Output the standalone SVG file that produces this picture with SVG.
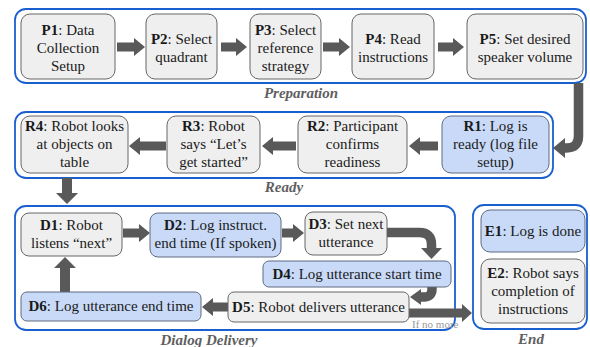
<svg xmlns="http://www.w3.org/2000/svg" width="590" height="347" viewBox="0 0 590 347">
<style>
.cont{fill:#fff;stroke:#1a5fd0;stroke-width:1.8}
.g{fill:#efefef;stroke:#666;stroke-width:1}
.bl{fill:#c9daf8;stroke:#5f6b80;stroke-width:1}
.ar{fill:#595959}
.sh{fill:none;stroke:#595959;stroke-width:9.5}
</style>
<g id="containers">
<rect class="cont" x="15" y="9" width="571" height="74" rx="11"/>
<rect class="cont" x="15" y="112" width="538" height="66" rx="11"/>
<rect class="cont" x="15" y="206" width="440" height="124" rx="11"/>
<rect class="cont" x="473" y="205" width="114" height="124" rx="11"/>
<text font-family="Liberation Serif" font-size="15" font-weight="bold" font-style="italic" fill="#5f5f5f" text-anchor="middle" x="301" y="98">Preparation</text>
<text font-family="Liberation Serif" font-size="15" font-weight="bold" font-style="italic" fill="#5f5f5f" text-anchor="middle" x="284" y="192">Ready</text>
<text font-family="Liberation Serif" font-size="15" font-weight="bold" font-style="italic" fill="#5f5f5f" text-anchor="middle" x="209" y="345">Dialog Delivery</text>
<text font-family="Liberation Serif" font-size="15" font-weight="bold" font-style="italic" fill="#5f5f5f" text-anchor="middle" x="531" y="344">End</text>
</g>
<g id="connectors">
<polygon class="ar" points="117,42.5 134,42.5 134,38 145,47 134,56 134,51.5 117,51.5"/>
<polygon class="ar" points="221,42.5 236,42.5 236,38 247,47 236,56 236,51.5 221,51.5"/>
<polygon class="ar" points="323,42.5 339,42.5 339,38 350,47 339,56 339,51.5 323,51.5"/>
<polygon class="ar" points="438,42.5 453,42.5 453,38 464,47 453,56 453,51.5 438,51.5"/>
<path class="sh" d="M578.5,83 V136 Q578.5,148 566.5,148 H562"/>
<polygon class="ar" points="565,138 553,148 565,158"/>
<polygon class="ar" points="438,141.5 420,141.5 420,137 409,146 420,155 420,150.5 438,150.5"/>
<polygon class="ar" points="296,141.5 273,141.5 273,137 262,146 273,155 273,150.5 296,150.5"/>
<polygon class="ar" points="166,141.5 140,141.5 140,137 129,146 140,155 140,150.5 166,150.5"/>
<polygon class="ar" points="62,178 72,178 72,193 78,193 67,204 56,193 62,193"/>
<polygon class="ar" points="123,228.5 139,228.5 139,224 150,233 139,242 139,237.5 123,237.5"/>
<polygon class="ar" points="282,228.5 293,228.5 293,224 304,233 293,242 293,237.5 282,237.5"/>
<path class="sh" d="M387,232.5 H419.5 Q431.5,232.5 431.5,244.5 V249"/>
<polygon class="ar" points="421,248 442,248 431.5,259"/>
<path class="sh" d="M432,287 V289 Q432,297 424,297 H419"/>
<polygon class="ar" points="421,289 421,305 410,297"/>
<polygon class="ar" points="409,308.5 462,308.5 462,304 472,313 462,322 462,317.5 409,317.5"/>
<polygon class="ar" points="228,302.5 213,302.5 213,298 202,307 213,316 213,311.5 228,311.5"/>
<polygon class="ar" points="60,292 70,292 70,268 76,268 65,257 54,268 60,268"/>
<text font-family="Liberation Serif" font-size="11" fill="#999999" x="412" y="328">If no more</text>
</g>
<g id="P1"><rect class="g" x="21" y="14" width="94" height="65" rx="9"/>
<text font-family="Liberation Serif" font-size="15" fill="#1a1a1a" text-anchor="middle" x="68" y="35"><tspan font-weight="bold">P1</tspan>: Data</text>
<text font-family="Liberation Serif" font-size="15" fill="#1a1a1a" text-anchor="middle" x="68" y="53">Collection</text>
<text font-family="Liberation Serif" font-size="15" fill="#1a1a1a" text-anchor="middle" x="68" y="71">Setup</text></g>
<g id="P2"><rect class="g" x="146" y="14" width="71" height="65" rx="9"/>
<text font-family="Liberation Serif" font-size="15" fill="#1a1a1a" text-anchor="middle" x="181.5" y="44"><tspan font-weight="bold">P2</tspan>: Select</text>
<text font-family="Liberation Serif" font-size="15" fill="#1a1a1a" text-anchor="middle" x="181.5" y="62">quadrant</text></g>
<g id="P3"><rect class="g" x="250" y="14" width="71" height="65" rx="9"/>
<text font-family="Liberation Serif" font-size="15" fill="#1a1a1a" text-anchor="middle" x="285.5" y="35"><tspan font-weight="bold">P3</tspan>: Select</text>
<text font-family="Liberation Serif" font-size="15" fill="#1a1a1a" text-anchor="middle" x="285.5" y="53">reference</text>
<text font-family="Liberation Serif" font-size="15" fill="#1a1a1a" text-anchor="middle" x="285.5" y="71">strategy</text></g>
<g id="P4"><rect class="g" x="352" y="14" width="82" height="65" rx="9"/>
<text font-family="Liberation Serif" font-size="15" fill="#1a1a1a" text-anchor="middle" x="393" y="44"><tspan font-weight="bold">P4</tspan>: Read</text>
<text font-family="Liberation Serif" font-size="15" fill="#1a1a1a" text-anchor="middle" x="393" y="62">instructions</text></g>
<g id="P5"><rect class="g" x="467" y="14" width="116" height="65" rx="9"/>
<text font-family="Liberation Serif" font-size="15" fill="#1a1a1a" text-anchor="middle" x="525" y="44"><tspan font-weight="bold">P5</tspan>: Set desired</text>
<text font-family="Liberation Serif" font-size="15" fill="#1a1a1a" text-anchor="middle" x="525" y="62">speaker volume</text></g>
<g id="R1"><rect class="bl" x="442" y="116" width="107" height="57" rx="9"/>
<text font-family="Liberation Serif" font-size="15" fill="#1a1a1a" text-anchor="middle" x="495.5" y="131"><tspan font-weight="bold">R1</tspan>: Log is</text>
<text font-family="Liberation Serif" font-size="15" fill="#1a1a1a" text-anchor="middle" x="495.5" y="149">ready (log file</text>
<text font-family="Liberation Serif" font-size="15" fill="#1a1a1a" text-anchor="middle" x="495.5" y="167">setup)</text></g>
<g id="R2"><rect class="g" x="298" y="116" width="109" height="57" rx="9"/>
<text font-family="Liberation Serif" font-size="15" fill="#1a1a1a" text-anchor="middle" x="352.5" y="131"><tspan font-weight="bold">R2</tspan>: Participant</text>
<text font-family="Liberation Serif" font-size="15" fill="#1a1a1a" text-anchor="middle" x="352.5" y="149">confirms</text>
<text font-family="Liberation Serif" font-size="15" fill="#1a1a1a" text-anchor="middle" x="352.5" y="167">readiness</text></g>
<g id="R3"><rect class="g" x="167" y="116" width="93" height="57" rx="9"/>
<text font-family="Liberation Serif" font-size="15" fill="#1a1a1a" text-anchor="middle" x="213.5" y="131"><tspan font-weight="bold">R3</tspan>: Robot</text>
<text font-family="Liberation Serif" font-size="15" fill="#1a1a1a" text-anchor="middle" x="213.5" y="149">says “Let’s</text>
<text font-family="Liberation Serif" font-size="15" fill="#1a1a1a" text-anchor="middle" x="213.5" y="167">get started”</text></g>
<g id="R4"><rect class="g" x="21" y="116" width="107" height="57" rx="9"/>
<text font-family="Liberation Serif" font-size="15" fill="#1a1a1a" text-anchor="middle" x="74.5" y="131"><tspan font-weight="bold">R4</tspan>: Robot looks</text>
<text font-family="Liberation Serif" font-size="15" fill="#1a1a1a" text-anchor="middle" x="74.5" y="149">at objects on</text>
<text font-family="Liberation Serif" font-size="15" fill="#1a1a1a" text-anchor="middle" x="74.5" y="167">table</text></g>
<g id="D1"><rect class="g" x="21" y="213" width="101" height="43" rx="8"/>
<text font-family="Liberation Serif" font-size="15" fill="#1a1a1a" text-anchor="middle" x="71.5" y="230"><tspan font-weight="bold">D1</tspan>: Robot</text>
<text font-family="Liberation Serif" font-size="15" fill="#1a1a1a" text-anchor="middle" x="71.5" y="248">listens “next”</text></g>
<g id="D2"><rect class="bl" x="150" y="213" width="131" height="44" rx="8"/>
<text font-family="Liberation Serif" font-size="15" fill="#1a1a1a" text-anchor="middle" x="215.5" y="230"><tspan font-weight="bold">D2</tspan>: Log instruct.</text>
<text font-family="Liberation Serif" font-size="15" fill="#1a1a1a" text-anchor="middle" x="215.5" y="248">end time (If spoken)</text></g>
<g id="D3"><rect class="g" x="305" y="212" width="82" height="43" rx="8"/>
<text font-family="Liberation Serif" font-size="15" fill="#1a1a1a" text-anchor="middle" x="346" y="229"><tspan font-weight="bold">D3</tspan>: Set next</text>
<text font-family="Liberation Serif" font-size="15" fill="#1a1a1a" text-anchor="middle" x="346" y="247">utterance</text></g>
<g id="D4"><rect class="bl" x="263" y="261" width="188" height="26" rx="6"/>
<text font-family="Liberation Serif" font-size="15" fill="#1a1a1a" text-anchor="middle" x="357" y="279"><tspan font-weight="bold">D4</tspan>: Log utterance start time</text></g>
<g id="D5"><rect class="g" x="228" y="292" width="181" height="30" rx="6"/>
<text font-family="Liberation Serif" font-size="15" fill="#1a1a1a" text-anchor="middle" x="318.5" y="312"><tspan font-weight="bold">D5</tspan>: Robot delivers utterance</text></g>
<g id="D6"><rect class="bl" x="21" y="292" width="180" height="29" rx="6"/>
<text font-family="Liberation Serif" font-size="15" fill="#1a1a1a" text-anchor="middle" x="111" y="311"><tspan font-weight="bold">D6</tspan>: Log utterance end time</text></g>
<g id="E1"><rect class="bl" x="481" y="210" width="104" height="42" rx="9"/>
<text font-family="Liberation Serif" font-size="15" fill="#1a1a1a" text-anchor="middle" x="533" y="236"><tspan font-weight="bold">E1</tspan>: Log is done</text></g>
<g id="E2"><rect class="g" x="481" y="259" width="104" height="64" rx="9"/>
<text font-family="Liberation Serif" font-size="15" fill="#1a1a1a" text-anchor="middle" x="533" y="278"><tspan font-weight="bold">E2</tspan>: Robot says</text>
<text font-family="Liberation Serif" font-size="15" fill="#1a1a1a" text-anchor="middle" x="533" y="296">completion of</text>
<text font-family="Liberation Serif" font-size="15" fill="#1a1a1a" text-anchor="middle" x="533" y="314">instructions</text></g>
</svg>
